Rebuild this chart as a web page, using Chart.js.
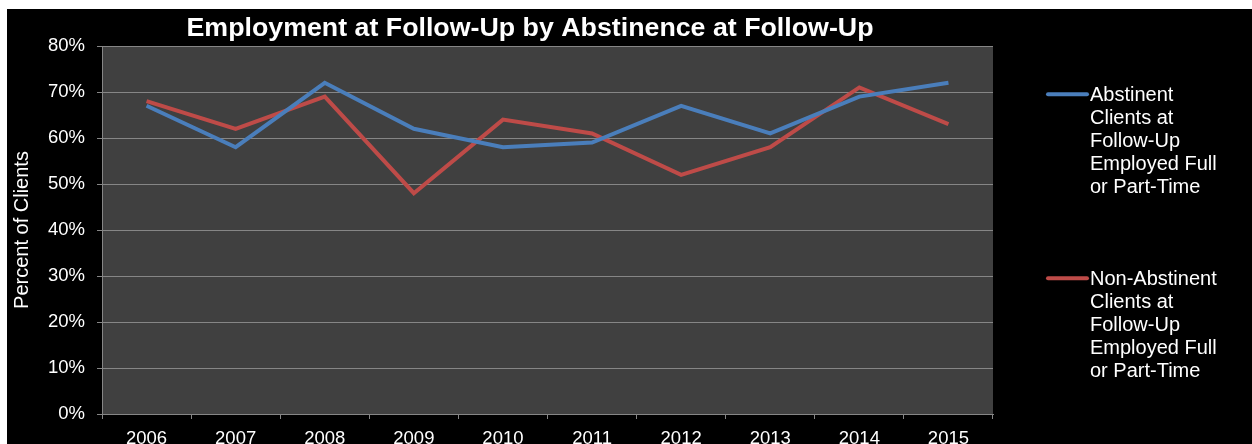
<!DOCTYPE html>
<html>
<head>
<meta charset="utf-8">
<script src="https://cdn.jsdelivr.net/npm/chart.js@4.4.1/dist/chart.umd.min.js"></script>
<style>
  html, body { margin: 0; padding: 0; background: #ffffff; }
  #wrap { position: absolute; left: 7px; top: 9px; width: 1245px; height: 435px; background: #000000; }
  canvas { display: block; }
</style>
</head>
<body>
<div id="wrap"><canvas id="c" width="1245" height="435"></canvas></div>
<script>
const titleText = 'Employment at Follow-Up by Abstinence at Follow-Up';
const yAxisTitle = 'Percent of Clients';
const years = ['2006', '2007', '2008', '2009', '2010', '2011', '2012', '2013', '2014', '2015'];
const abstinentLabel = ['Abstinent', 'Clients at', 'Follow-Up', 'Employed Full', 'or Part-Time'];
const nonAbstinentLabel = ['Non-Abstinent', 'Clients at', 'Follow-Up', 'Employed Full', 'or Part-Time'];
const abstinent = [67, 58, 72, 62, 58, 59, 67, 61, 69, 72];
const nonAbstinent = [68, 62, 69, 48, 64, 61, 52, 58, 71, 63];
const yMin = 0, yMax = 80, yStep = 10;

const FONT = '"Liberation Sans", Arial, sans-serif';
const BLUE = '#4A7EBB';
const RED = '#BE4B48';
const GRID = '#868686';

const decor = {
  id: 'decor',
  beforeDraw(chart) {
    const { ctx, chartArea: a } = chart;
    ctx.save();
    ctx.fillStyle = '#404040';
    ctx.fillRect(a.left, a.top, a.right - a.left, a.bottom - a.top);
    ctx.restore();
  },
  afterDraw(chart) {
    const ctx = chart.ctx;
    ctx.save();
    // title (slightly widened to match the reference's letter spacing)
    ctx.fillStyle = '#ffffff';
    ctx.font = 'bold 25px ' + FONT;
    ctx.textAlign = 'center';
    ctx.textBaseline = 'alphabetic';
    const w = ctx.measureText(titleText).width;
    const sx = 687 / w;
    ctx.translate(523, 26.5);
    ctx.scale(sx, 1);
    ctx.fillText(titleText, 0, 0);
    ctx.restore();

    ctx.save();
    // legend
    const entries = [
      { color: BLUE, lines: abstinentLabel, y: 85.3 },
      { color: RED, lines: nonAbstinentLabel, y: 269.3 }
    ];
    ctx.font = '20px ' + FONT;
    ctx.textAlign = 'left';
    ctx.textBaseline = 'alphabetic';
    entries.forEach(e => {
      ctx.strokeStyle = e.color;
      ctx.lineWidth = 4;
      ctx.lineCap = 'round';
      ctx.beginPath();
      ctx.moveTo(1041, e.y);
      ctx.lineTo(1080, e.y);
      ctx.stroke();
      ctx.fillStyle = '#ffffff';
      e.lines.forEach((t, i) => ctx.fillText(t, 1083, e.y + 7 + i * 23));
    });
    ctx.restore();
  }
};

new Chart(document.getElementById('c'), {
  type: 'line',
  data: {
    labels: years,
    datasets: [
      { label: abstinentLabel.join(' '), data: abstinent, borderColor: BLUE, backgroundColor: BLUE, borderWidth: 4, pointRadius: 0, tension: 0 },
      { label: nonAbstinentLabel.join(' '), data: nonAbstinent, borderColor: RED, backgroundColor: RED, borderWidth: 4, pointRadius: 0, tension: 0 }
    ]
  },
  options: {
    responsive: false,
    devicePixelRatio: 1,
    animation: false,
    layout: { padding: { top: 37, right: 259, left: 0, bottom: 0 } },
    plugins: { legend: { display: false }, title: { display: false }, tooltip: { enabled: false } },
    scales: {
      x: {
        offset: true,
        grid: { display: true, drawOnChartArea: false, drawTicks: true, tickLength: 5, color: GRID, offset: true },
        border: { display: true, color: GRID, width: 1 },
        ticks: { color: '#ffffff', font: { family: FONT, size: 18.5 }, padding: 9, maxRotation: 0, autoSkip: false },
        afterFit(s) { s.height = 30; }
      },
      y: {
        min: yMin, max: yMax,
        grid: { color: GRID, lineWidth: 1, drawTicks: true, tickLength: 5 },
        border: { display: true, color: GRID, width: 1 },
        ticks: { stepSize: yStep, color: '#ffffff', font: { family: FONT, size: 18.5 }, padding: 12, callback: v => v + '%' },
        title: { display: true, text: yAxisTitle, color: '#ffffff', font: { family: FONT, size: 20 }, padding: { top: 3, bottom: 0 } },
        afterFit(s) { s.width = 95; }
      }
    }
  },
  plugins: [decor]
});
</script>
</body>
</html>
